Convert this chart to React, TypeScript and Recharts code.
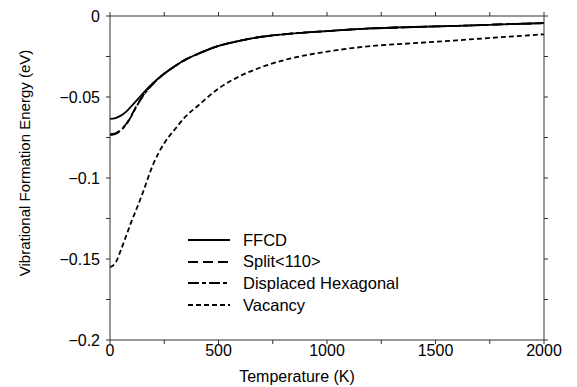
import React from 'react';
import { LineChart, Line, XAxis, YAxis } from 'recharts';

const temps = [0, 25, 50, 75, 100, 125, 150, 200, 250, 300, 350, 400, 500, 600, 700, 800, 1000, 1200, 1400, 1600, 1800, 2000];
const ffcd = [-0.0635, -0.063, -0.0615, -0.059, -0.0555, -0.0518, -0.048, -0.0412, -0.0355, -0.0308, -0.0268, -0.0237, -0.0185, -0.0152, -0.0128, -0.0113, -0.0093, -0.0077, -0.0068, -0.0061, -0.0052, -0.0044];
const split110 = [-0.073, -0.0725, -0.07, -0.0665, -0.061, -0.0548, -0.0495, -0.0415, -0.0356, -0.0308, -0.0268, -0.0237, -0.0185, -0.0152, -0.0128, -0.0113, -0.0093, -0.0077, -0.0068, -0.0061, -0.0052, -0.0044];
const displacedHex = [-0.0735, -0.0728, -0.0705, -0.067, -0.0615, -0.0552, -0.0498, -0.0417, -0.0357, -0.0309, -0.0268, -0.0237, -0.0185, -0.0152, -0.0128, -0.0113, -0.0093, -0.0077, -0.0068, -0.0061, -0.0052, -0.0044];
const vacancy = [-0.155, -0.1525, -0.1445, -0.1355, -0.1265, -0.1182, -0.1095, -0.0912, -0.0785, -0.0698, -0.0618, -0.056, -0.0448, -0.037, -0.0315, -0.0273, -0.022, -0.0186, -0.0168, -0.015, -0.0131, -0.0113];

const xTicks = [0, 250, 500, 750, 1000, 1250, 1500, 1750, 2000];
const yTicks = [-0.2, -0.175, -0.15, -0.125, -0.1, -0.075, -0.05, -0.025, 0];

const seriesInfo = [
  { key: 'ffcd', name: 'FFCD', dash: undefined },
  { key: 'split', name: 'Split<110>', dash: '10 5' },
  { key: 'hex', name: 'Displaced Hexagonal', dash: '11 3 4 3' },
  { key: 'vac', name: 'Vacancy', dash: '5 3' },
];

const data = temps.map((T, i) => ({
  T,
  ffcd: ffcd[i],
  split: split110[i],
  hex: displacedHex[i],
  vac: vacancy[i],
}));

const font = '"Liberation Sans", Arial, sans-serif';
const axisColor = '#333';

const fmtX = (v: number) => (v % 500 === 0 ? String(v) : '');
const fmtY = (v: number) => {
  const r = Math.round(v * 1000);
  if (r % 50 !== 0) return '';
  if (r === 0) return '0';
  return '\u2212' + String(Math.abs(v));
};
const blank = () => '';

// rotated y label, sits a bit above the plot's centre like the original
const YLabel = (props: any) => {
  const { viewBox } = props;
  const cx = 24;
  const cy = viewBox.y + viewBox.height / 2 - 15;
  return (
    <text
      x={cx}
      y={cy}
      transform={`rotate(-90, ${cx}, ${cy})`}
      textAnchor="middle"
      dominantBaseline="central"
      fill="#000"
      fontSize={15}
      fontFamily={font}
    >
      Vibrational Formation Energy (eV)
    </text>
  );
};

const XLabel = (props: any) => {
  const { viewBox } = props;
  const cx = viewBox.x + viewBox.width / 2 - 30;
  return (
    <text x={cx} y={382} textAnchor="middle" fill="#000" fontSize={16} fontFamily={font}>
      Temperature (K)
    </text>
  );
};

const LegendBox = () => (
  <div style={{ position: 'absolute', left: 188, top: 229, fontFamily: font, fontSize: 16.5, color: '#000', lineHeight: 1 }}>
    {seriesInfo.map((s) => (
      <div key={s.key} style={{ display: 'flex', alignItems: 'center', height: 21.7 }}>
        <svg width={42} height={10} style={{ marginRight: 13 }}>
          <line x1={0} y1={5} x2={42} y2={5} stroke="#000" strokeWidth={1.8} strokeDasharray={s.dash} />
        </svg>
        <span>{s.name}</span>
      </div>
    ))}
  </div>
);

export default function App() {
  return (
    <div style={{ position: 'absolute', left: 0, top: 0, width: 577, height: 387, background: '#fff' }}>
      <LineChart width={577} height={387} data={data} margin={{ top: 15, right: 32, left: 0, bottom: 0 }}>
        <XAxis
          dataKey="T"
          type="number"
          domain={[0, 2000]}
          ticks={xTicks}
          tickFormatter={fmtX}
          height={47}
          stroke={axisColor}
          tickSize={4}
          tickMargin={1}
          tick={{ fill: '#000', fontSize: 16, fontFamily: font }}
          label={<XLabel />}
        />
        <XAxis
          xAxisId="top"
          orientation="top"
          dataKey="T"
          type="number"
          domain={[0, 2000]}
          ticks={xTicks}
          tickFormatter={blank}
          height={1}
          stroke={axisColor}
          tickSize={4}
        />
        <YAxis
          type="number"
          domain={[-0.2, 0]}
          ticks={yTicks}
          tickFormatter={fmtY}
          width={110}
          stroke={axisColor}
          tickSize={4}
          tickMargin={6}
          tick={{ fill: '#000', fontSize: 16, fontFamily: font }}
          label={<YLabel />}
        />
        <YAxis
          yAxisId="right"
          orientation="right"
          type="number"
          domain={[-0.2, 0]}
          ticks={yTicks}
          tickFormatter={blank}
          width={1}
          stroke={axisColor}
          tickSize={4}
        />
        {seriesInfo.map((s) => (
          <Line
            key={s.key}
            type="monotone"
            dataKey={s.key}
            name={s.name}
            stroke="#000"
            strokeWidth={1.8}
            strokeDasharray={s.dash}
            dot={false}
            isAnimationActive={false}
          />
        ))}
        {/* invisible copy so the top/right frame axes get drawn */}
        <Line
          xAxisId="top"
          yAxisId="right"
          dataKey="ffcd"
          stroke="none"
          dot={false}
          activeDot={false}
          legendType="none"
          isAnimationActive={false}
        />
      </LineChart>
      <LegendBox />
    </div>
  );
}
